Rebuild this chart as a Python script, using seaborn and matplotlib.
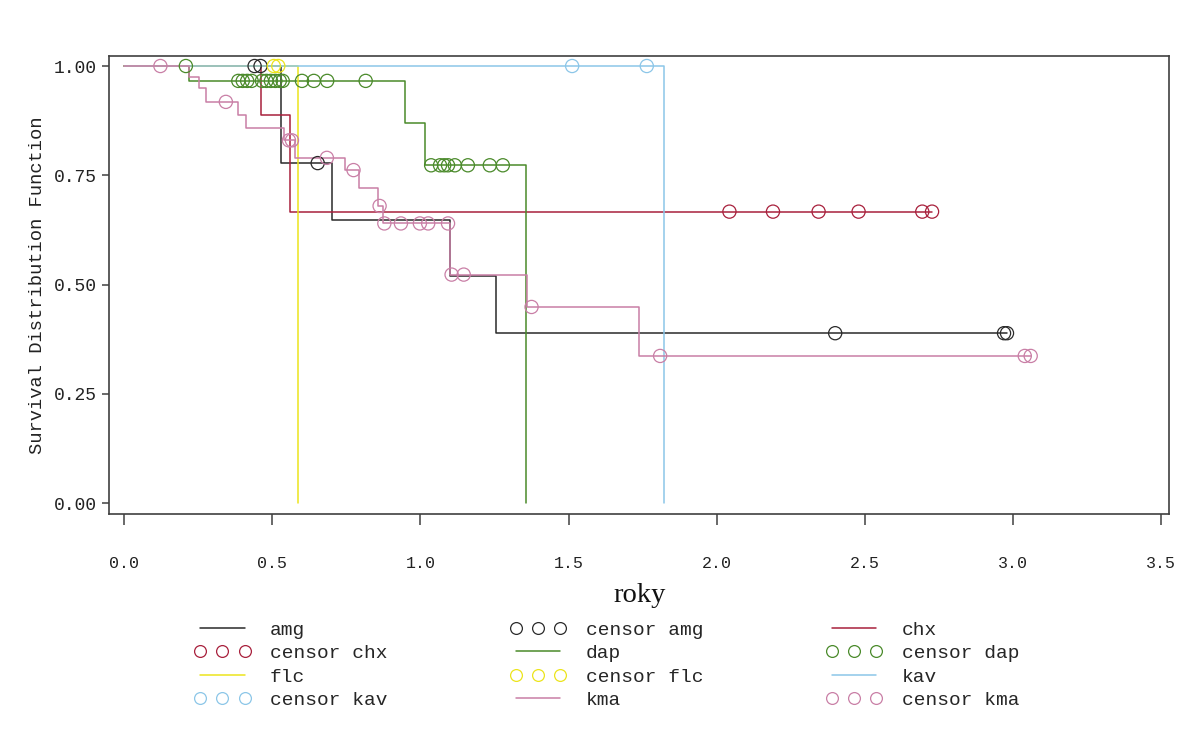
import numpy as np
import pandas as pd
import matplotlib
matplotlib.use("Agg")
import matplotlib.pyplot as plt
from matplotlib.lines import Line2D
import seaborn as sns

# ---- Kaplan-Meier estimates per group (time in years) ----
groups = ["amg", "chx", "dap", "flc", "kav", "kma"]

amg_times = [0.53, 0.70, 1.10, 1.255]
amg_surv = [0.778, 0.648, 0.519, 0.389]
amg_censor = [0.44, 0.46, 0.653, 2.40, 2.97, 2.98]

chx_times = [0.462, 0.558]
chx_surv = [0.889, 0.667]
chx_censor = [2.043, 2.19, 2.344, 2.479, 2.694, 2.727]

dap_times = [0.22, 0.949, 1.016, 1.355]
dap_surv = [0.966, 0.869, 0.773, 0.0]
dap_censor = [0.208, 0.385, 0.40, 0.415, 0.43, 0.465, 0.48, 0.495, 0.51,
              0.525, 0.535, 0.60, 0.64, 0.685, 0.815, 1.036, 1.066, 1.08,
              1.093, 1.116, 1.16, 1.234, 1.278]

flc_times = [0.586]
flc_surv = [0.0]
flc_censor = [0.505, 0.52]

kav_times = [1.821]
kav_surv = [0.0]
kav_censor = [1.512, 1.764]

kma_times = [0.22, 0.254, 0.276, 0.383, 0.41, 0.54, 0.575, 0.746, 0.791,
             0.858, 0.875, 1.100, 1.358, 1.738]
kma_surv = [0.976, 0.949, 0.918, 0.888, 0.858, 0.83, 0.79, 0.762, 0.72,
            0.68, 0.64, 0.523, 0.449, 0.337]
kma_censor = [0.122, 0.343, 0.556, 0.566, 0.684, 0.774, 0.862, 0.878, 0.934,
              0.998, 1.026, 1.093, 1.105, 1.146, 1.375, 1.809, 3.04, 3.06]

x_ticks = [0.0, 0.5, 1.0, 1.5, 2.0, 2.5, 3.0, 3.5]
y_ticks = [0.0, 0.25, 0.5, 0.75, 1.0]

palette = {
    "amg": "#2a2a2a",
    "chx": "#a8203c",
    "dap": "#4a8a2a",
    "flc": "#ece41c",
    "kav": "#8cc6e8",
    "kma": "#c97fa6",
}

series = {
    "amg": (amg_times, amg_surv, amg_censor),
    "chx": (chx_times, chx_surv, chx_censor),
    "dap": (dap_times, dap_surv, dap_censor),
    "flc": (flc_times, flc_surv, flc_censor),
    "kav": (kav_times, kav_surv, kav_censor),
    "kma": (kma_times, kma_surv, kma_censor),
}


def step_value(times, surv, t):
    """Survival estimate at time t (right-continuous step function)."""
    s = 1.0
    for ti, si in zip(times, surv):
        if ti <= t:
            s = si
    return s


step_rows, cens_rows = [], []
for g in groups:
    times, surv, cens = series[g]
    xs = [0.0] + list(times)
    ys = [1.0] + list(surv)
    end = max(list(times) + list(cens))
    if surv[-1] > 0 and end > times[-1]:
        xs.append(end)
        ys.append(surv[-1])
    step_rows += [(g, x, y) for x, y in zip(xs, ys)]
    cens_rows += [(g, c, step_value(times, surv, c)) for c in cens]

steps = pd.DataFrame(step_rows, columns=["group", "t", "s"])
censored = pd.DataFrame(cens_rows, columns=["group", "t", "s"])

# ---- figure ----
sns.set_theme(style="ticks")
plt.rcParams["font.family"] = ["Liberation Mono", "DejaVu Sans Mono"]

fig = plt.figure(figsize=(11.8, 7.29), dpi=100, facecolor="white")
ax = fig.add_axes([0.0926, 0.2949, 0.8981, 0.6287])
ax.set_facecolor("white")

for g in groups:
    sub = steps[steps["group"] == g]
    sns.lineplot(data=sub, x="t", y="s", color=palette[g], drawstyle="steps-post",
                 estimator=None, sort=False, lw=1.1, ax=ax, legend=False)
    csub = censored[censored["group"] == g]
    sns.scatterplot(data=csub, x="t", y="s", color=palette[g], marker="o", s=90,
                    facecolor="none", edgecolor=palette[g], linewidth=0.9,
                    ax=ax, legend=False, zorder=3)

ax.set_xlim(-0.0506, 3.527)
ax.set_ylim(-0.0245, 1.0236)
ax.set_xticks(x_ticks)
ax.set_xticklabels([f"{v:.1f}" for v in x_ticks])
ax.set_yticks(y_ticks)
ax.set_yticklabels([f"{v:.2f}" for v in y_ticks])

for sp in ax.spines.values():
    sp.set_visible(True)
    sp.set_color("#404040")
    sp.set_linewidth(1.2)

ax.tick_params(axis="x", direction="out", length=8, width=1.1, color="#404040",
               pad=22, labelsize=12, labelcolor="#222222")
ax.tick_params(axis="y", direction="out", length=5, width=1.1, color="#404040",
               pad=4, labelsize=13, labelcolor="#222222")

ax.set_xlabel("roky", family="Liberation Serif", fontsize=20.5, color="#111111")
ax.xaxis.set_label_coords(0.5, -0.150)
ax.xaxis.label.set_va("top")
ax.set_ylabel("Survival Distribution Function", fontsize=13.5, color="#222222")
ax.yaxis.set_label_coords(-0.060, 0.5)

# ---- legend, filled row by row ----
row_major = []
for g in groups:
    row_major.append((Line2D([], [], color=palette[g], lw=1.1), g))
    row_major.append((Line2D([], [], ls="none", marker="o", ms=8.5, mfc="none",
                             mec=palette[g], mew=0.9), f"censor {g}"))
ncol, nrow = 3, 4
ordered = [row_major[r * ncol + c] for c in range(ncol) for r in range(nrow)]
fig.legend([h for h, _ in ordered], [l for _, l in ordered],
           loc="upper left", bbox_to_anchor=(194 / 1180, 1 - 621 / 729),
           bbox_transform=fig.transFigure, ncol=ncol, frameon=False,
           numpoints=3, fontsize=14, handlelength=2.9, handletextpad=1.0,
           columnspacing=6.3, labelspacing=0.3, borderpad=0, borderaxespad=0)

fig.savefig("out.png", dpi=100, facecolor="white")
